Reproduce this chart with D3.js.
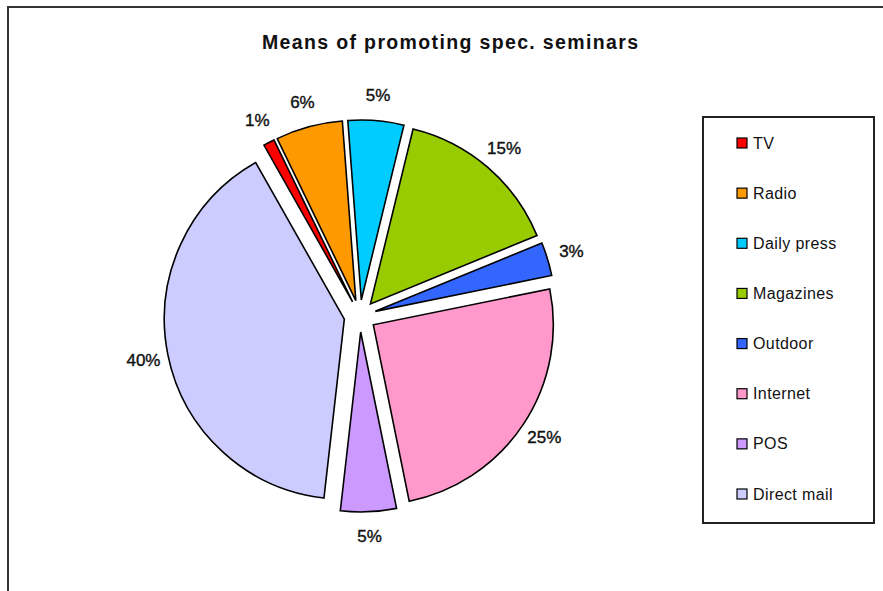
<!DOCTYPE html>
<html>
<head>
<meta charset="utf-8">
<script src="https://cdn.jsdelivr.net/npm/d3@7"></script>
<style>
  html, body { margin: 0; padding: 0; background: #fff; overflow: hidden; }
  svg { display: block; }
  text { font-family: "Liberation Sans", Arial, sans-serif; fill: #111; }
</style>
</head>
<body>
<svg id="chart" width="883" height="591"></svg>
<script>
const title = "Means of promoting spec. seminars";
const categories = ["TV", "Radio", "Daily press", "Magazines", "Outdoor", "Internet", "POS", "Direct mail"];
const values = [1, 6, 5, 15, 3, 25, 5, 40];
const colors = ["#FF0000", "#FF9900", "#00CCFF", "#99CC00", "#3366FF", "#FF99CC", "#CC99FF", "#CCCCFF"];

const svg = d3.select("#chart");
const W = 883, H = 591;

// outer chart border (only left and top visible)
svg.append("path")
  .attr("d", `M8,${H + 5} L8,7 L${W + 5},7`)
  .attr("fill", "none").attr("stroke", "#333").attr("stroke-width", 2);

// title
svg.append("text")
  .attr("x", 450).attr("y", 49)
  .attr("text-anchor", "middle")
  .attr("font-size", 19.5).attr("font-weight", "bold")
  .attr("textLength", 376)
  .text(title);

const cx = 360, cy = 316, R = 180, explode = 16, labelR = 221;
const startA = -29.5 * Math.PI / 180;

const pie = d3.pie().sort(null).value(d => d).startAngle(startA).endAngle(startA + 2 * Math.PI);
const arcs = pie(values);
const arc = d3.arc().innerRadius(0).outerRadius(R);

const g = svg.append("g").attr("transform", `translate(${cx},${cy})`);

g.selectAll("path.slice").data(arcs).enter().append("path")
  .attr("class", "slice")
  .attr("transform", d => {
    const m = (d.startAngle + d.endAngle) / 2;
    return `translate(${explode * Math.sin(m)},${-explode * Math.cos(m)})`;
  })
  .attr("d", arc)
  .attr("fill", (d, i) => colors[i])
  .attr("stroke", "#000").attr("stroke-width", 1.6).attr("stroke-linejoin", "miter");

g.selectAll("text.lbl").data(arcs).enter().append("text")
  .attr("class", "lbl")
  .attr("x", d => labelR * Math.sin((d.startAngle + d.endAngle) / 2))
  .attr("y", d => -labelR * Math.cos((d.startAngle + d.endAngle) / 2))
  .attr("text-anchor", "middle")
  .attr("dominant-baseline", "central")
  .attr("font-size", 17)
  .attr("stroke", "#111").attr("stroke-width", 0.4)
  .text(d => d.value + "%");

// legend
const lg = svg.append("g");
lg.append("rect")
  .attr("x", 703).attr("y", 117).attr("width", 171).attr("height", 406)
  .attr("fill", "#fff").attr("stroke", "#222").attr("stroke-width", 2);

const ly = d3.scalePoint().domain(categories).range([143, 494]);
const items = lg.selectAll("g.item").data(categories).enter().append("g")
  .attr("class", "item")
  .attr("transform", d => `translate(737,${ly(d)})`);
items.append("rect")
  .attr("x", 0).attr("y", -5).attr("width", 10).attr("height", 10)
  .attr("fill", (d, i) => colors[i]).attr("stroke", "#000").attr("stroke-width", 1.2);
items.append("text")
  .attr("x", 16).attr("y", 0)
  .attr("dominant-baseline", "central")
  .attr("font-size", 16)
  .attr("letter-spacing", 0.4)
  .text(d => d);
</script>
</body>
</html>
